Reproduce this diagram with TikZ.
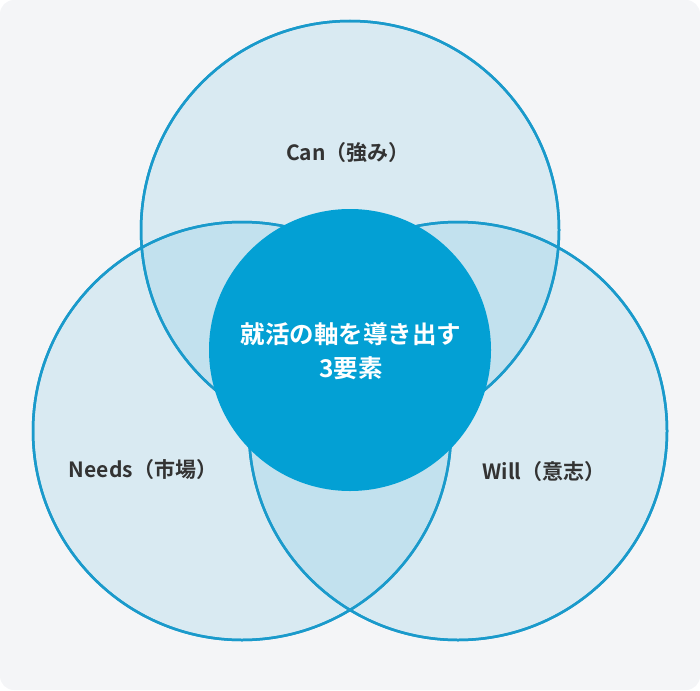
\documentclass[tikz,border=0pt]{standalone}
\usepackage{fontspec}
\setmainfont{Noto Sans CJK JP}[BoldFont={* Bold}]
\definecolor{bg}{HTML}{F4F5F7}
\definecolor{ring}{HTML}{1A9ACB}
\definecolor{ringfill}{HTML}{3FB0DA}
\definecolor{core}{HTML}{03A0D4}
\definecolor{txt}{HTML}{333333}
\begin{document}
\begin{tikzpicture}[x=1pt,y=-1pt,
  venn/.style={draw=ring,line width=2.5pt,fill=ringfill,fill opacity=0.15},
  lab/.style={text=txt,font=\bfseries\fontsize{21}{25}\selectfont}]
\fill[bg,rounded corners=14pt] (0,0) rectangle (700,690);
\useasboundingbox (0,0) rectangle (700,690);
\path[venn] (350,230) circle (209);
\path[venn] (242,431) circle (209);
\path[venn] (458,431) circle (209);
\draw[ring,line width=2.5pt] (350,230) circle (209);
\draw[ring,line width=2.5pt] (242,431) circle (209);
\draw[ring,line width=2.5pt] (458,431) circle (209);
\fill[core] (350,350) circle (141);
\node[lab] (can) at (348,153) {Can（強み）};
\node[lab] (needs) at (143,470) {Needs（市場）};
\node[lab] (will) at (544,472) {Will（意志）};
\node[text=white,font=\bfseries\fontsize{24.5}{34}\selectfont,align=center] (core) at (351,351) {就活の軸を導き出す\\3要素};
\end{tikzpicture}
\end{document}
